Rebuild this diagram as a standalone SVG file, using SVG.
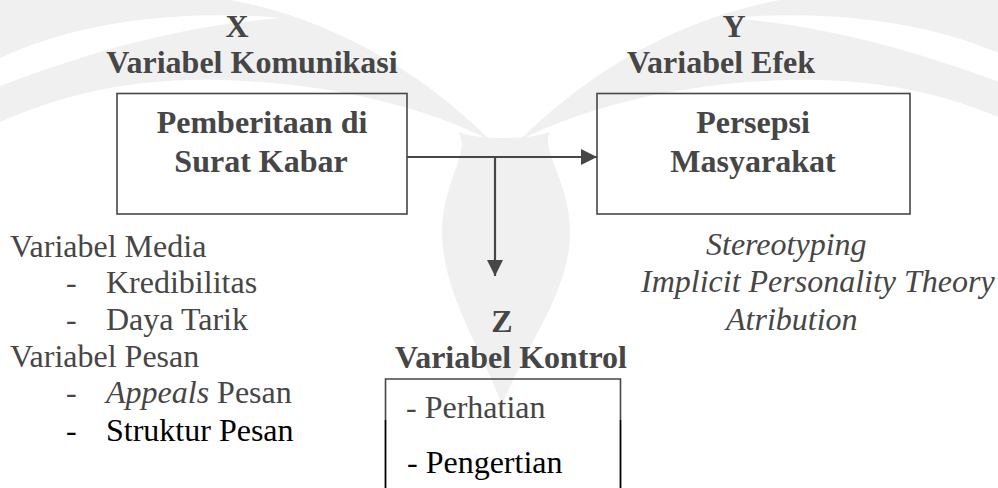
<svg xmlns="http://www.w3.org/2000/svg" width="998" height="488" viewBox="0 0 998 488">
  <defs>
    <style>
      .bg { fill: #ffffff; }
      .wm { fill: #f0f0f0; }
      .wmw { fill: #ffffff; }
      .t { font-family: "Liberation Serif", "Times New Roman", serif; font-size: 32px; fill: #464646; }
      .b { font-weight: bold; }
      .i { font-style: italic; }
      .k { fill: #000000; }
      .mid { text-anchor: middle; }
      .box { fill: none; stroke: #464646; stroke-width: 1.6; }
      .conn { fill: none; stroke: #464646; stroke-width: 2.2; }
    </style>
    <marker id="arrow" markerUnits="userSpaceOnUse" markerWidth="17" markerHeight="17" refX="16" refY="8" orient="auto">
      <path d="M0,0 L16,8 L0,16 Z" fill="#464646"/>
    </marker>
  </defs>

  <rect class="bg" x="0" y="0" width="998" height="488"/>

  <!-- faint watermark -->
  <g id="watermark">
    <g id="wing-left">
      <path class="wm" d="M0,0 L230,0 C340,20 430,80 490,140 C410,100 300,78 190,80 C110,82 50,100 0,122 Z"/>
      <path class="wmw" d="M0,58 C70,25 170,8 280,18 C180,26 90,52 0,86 Z"/>
    </g>
    <g id="wing-right" transform="translate(1010,0) scale(-1,1)">
      <path class="wm" d="M0,0 L230,0 C340,20 430,80 490,140 C410,100 300,78 190,80 C110,82 50,100 0,122 Z"/>
      <path class="wmw" d="M0,58 C70,25 170,8 280,18 C180,26 90,52 0,86 Z"/>
    </g>
    <path id="vase" class="wm" d="M458,132 C472,150 442,182 442,232 C442,292 480,345 502,405 C526,345 570,292 570,232 C570,182 540,150 550,132 C530,140 478,140 458,132 Z"/>
  </g>

  <!-- connectors -->
  <g id="connectors">
    <line class="conn" x1="407" y1="157" x2="597" y2="157" marker-end="url(#arrow)"/>
    <line class="conn" x1="495" y1="157" x2="495" y2="276" marker-end="url(#arrow)"/>
  </g>

  <!-- X node -->
  <g id="node-x">
    <text class="t b mid" x="237" y="37">X</text>
    <text class="t b mid" x="252" y="73">Variabel Komunikasi</text>
    <rect class="box" x="117" y="93.5" width="290" height="120.5"/>
    <text class="t b mid" x="262" y="133">Pemberitaan di</text>
    <text class="t b mid" x="261" y="172">Surat Kabar</text>
  </g>

  <!-- Y node -->
  <g id="node-y">
    <text class="t b mid" x="734" y="37">Y</text>
    <text class="t b mid" x="721" y="73">Variabel Efek</text>
    <rect class="box" x="597" y="93.5" width="313" height="120.5"/>
    <text class="t b mid" x="753" y="133">Persepsi</text>
    <text class="t b mid" x="753" y="172">Masyarakat</text>
  </g>

  <!-- Z node -->
  <g id="node-z">
    <text class="t b mid" x="502" y="332">Z</text>
    <text class="t b mid" x="511" y="368">Variabel Kontrol</text>
    <path class="box" d="M385.5,420 L385.5,379 L620.5,379 L620.5,420"/>
    <path fill="none" stroke="#000000" stroke-width="1.8" d="M385.5,420 L385.5,490 M620.5,420 L620.5,490"/>
    <text class="t" x="406" y="418">- Perhatian</text>
    <text class="t k" x="407" y="473">- Pengertian</text>
  </g>

  <!-- communication variables list -->
  <g id="list-x">
    <text class="t" x="10" y="257">Variabel Media</text>
    <text class="t" x="66" y="293">-</text>
    <text class="t" x="106" y="293">Kredibilitas</text>
    <text class="t" x="66" y="330">-</text>
    <text class="t" x="106" y="330">Daya Tarik</text>
    <text class="t" x="10" y="367">Variabel Pesan</text>
    <text class="t" x="66" y="403">-</text>
    <text class="t" x="106" y="403"><tspan class="i">Appeals</tspan> Pesan</text>
    <text class="t k" x="66" y="441">-</text>
    <text class="t k" x="106" y="441">Struktur Pesan</text>
  </g>

  <!-- effect variables list -->
  <g id="list-y">
    <text class="t i" x="706" y="255">Stereotyping</text>
    <text class="t i" x="641" y="292">Implicit Personality Theory</text>
    <text class="t i" x="726" y="330">Atribution</text>
  </g>
</svg>
